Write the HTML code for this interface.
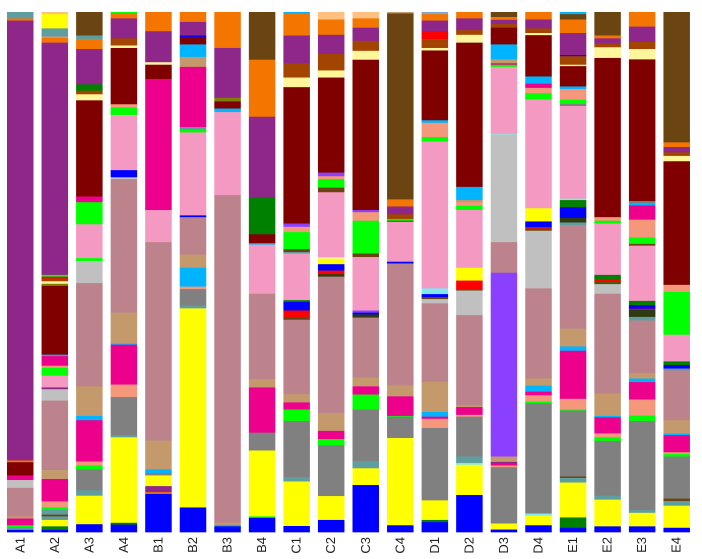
<!DOCTYPE html>
<html><head><meta charset="utf-8"><style>
html,body{margin:0;padding:0;background:#fff;width:702px;height:559px;overflow:hidden}
</style></head><body>
<svg id="s" width="702" height="559" xmlns="http://www.w3.org/2000/svg" font-family="Liberation Sans, sans-serif"></svg>
<script>
var C={te:'#5f9ea0',pu:'#8f268a',or:'#f47500',ye:'#ffff00',dr:'#800000',pk:'#ec008c',lp:'#f49ac2',ma:'#bc838c',ta:'#c49a6c',gr:'#808080',bl:'#0000ff',gn:'#00ff00',dg:'#008000',si:'#c0c0c0',sa:'#f4977a',br:'#6b4511',ru:'#a34400',ly:'#fff59b',sk:'#00b4ff',vi:'#8b40ff',pe:'#ffc080',re:'#ff0000',cy:'#80e8f0',ol:'#808000',db:'#2e3a10',sb:'#7fa8d8'};
var D={
A1:'te52 or58 pu1293 or1298 dr1335 pk1348 si1370 ma1450 ta1456 pk1475 gn1480 te1488 bl1494',
A2:'pe40 ye80 te103 sa106 or120 pu772 gn777 re782 ru790 ly797 ol803 dr996 sk1000 pk1027 sa1033 gn1055 lp1088 pu1093 si1125 ma1320 ta1345 pk1408 sa1425 gn1432 te1445 br1450 te1460 ye1478 dg1488 bl1494',
A3:'br100 te110 or138 pu237 dg255 ru265 ly282 dr552 pk568 gn630 lp725 gn733 si795 ma1085 ta1168 sk1180 pk1296 sa1307 gn1318 gr1377 te1392 ye1472 bl1494',
A4:'gn38 or52 pu108 ru128 ly135 dr293 sa302 gn323 lp478 bl498 si503 ma878 ta965 sk968 pk1080 sa1115 gr1222 te1228 ye1468 dg1473 bl1494',
B1:'or88 pu175 ly182 dr222 pk590 lp680 ma1237 ta1318 sk1328 gr1335 ye1365 pu1382 or1387 bl1494',
B2:'or62 pu100 bl104 dr125 sk160 ta188 pk357 te365 gn372 lp605 bl610 ma715 ta752 sk805 sa812 gr858 te866 ye1425 bl1494',
B3:'or135 pu275 ol285 dr305 sk315 lp548 ma1468 ta1474 sk1478 bl1494',
B4:'br168 or328 pu556 dg658 dr683 sk687 lp825 ma1065 ta1088 pk1215 gr1265 ye1450 gn1454 bl1494',
C1:'sk38 or100 pu178 ru218 ly245 dr628 vi637 sa652 gn700 br708 te712 lp843 dg848 bl872 re890 br898 ma1107 ta1130 pk1150 gn1182 gr1340 te1352 ye1477 bl1494',
C2:'pe55 or98 pu152 ru198 ly218 dr485 vi495 sa503 gn527 br540 lp723 ly727 ye742 bl760 re770 db777 ma1160 ta1210 pk1233 gn1250 gr1393 ye1460 bl1494',
C3:'pe52 or78 pu115 ru143 ly168 dr590 vi596 sa620 gn712 br722 lp872 vi878 bl883 db892 ma1060 ta1085 pk1108 gn1150 gr1295 te1315 ye1362 bl1494',
C4:'ta38 br560 or580 pu602 ru615 gn620 br623 lp735 bl740 ma1082 ta1113 pk1168 gn1170 gr1230 ye1475 bl1494',
D1:'sb40 or58 pu88 re110 ru135 ly142 dr338 sk345 sa385 gn398 lp810 cy826 bl834 br840 si852 ma1072 ta1157 sk1170 pk1176 sa1202 gr1405 ye1460 dg1466 bl1494',
D2:'or52 pu85 ru98 ly120 dr525 sk562 ta568 sa578 gn590 lp752 ye788 re812 br816 si885 ma1138 ta1143 pk1165 sa1170 gr1282 te1300 cy1305 ye1390 bl1494',
D3:'br48 or56 pu68 ru78 dr125 sk167 ta178 pk182 gn188 lp376 cy378 si680 ma766 vi1282 ta1297 pu1302 pk1307 sa1312 gr1470 ye1487 bl1494',
D4:'or55 pu80 ru93 ly99 dr215 sk235 pk247 sa262 gn280 lp585 ye622 bl638 re642 br648 si810 ma1063 ta1083 sk1100 pk1110 sa1128 gn1133 gr1442 cy1448 ye1475 bl1494',
E1:'sk40 br55 or93 pu155 bl158 ru182 ly186 dr243 sk250 sa280 gn292 gr298 lp558 cy562 dg582 bl612 db625 te632 ma923 ta973 sk985 pk1120 sa1150 gn1153 gr1338 br1342 te1355 ye1453 dg1482 bl1494',
E2:'br100 or108 pu122 ru133 ly163 dr610 sa620 gn628 lp772 dg785 re793 dg798 si825 ma1105 ta1168 sk1172 pk1217 sa1228 gn1238 gr1392 te1403 ye1478 bl1494',
E3:'or75 pu118 ru138 ly167 dr565 gr570 sk577 pk617 sa667 gn685 br690 lp845 dg857 bl867 re870 db890 te900 ma1048 ta1063 sk1073 pk1122 sa1167 gn1182 gr1432 te1440 ye1478 bl1494',
E4:'br400 or413 pu428 ru438 ly453 dr800 sa820 gn940 lp1015 dg1025 bl1035 te1040 ma1180 ta1218 sk1222 pk1270 sa1275 gn1282 gr1400 br1407 te1420 ye1482 bl1494'
};
var s='',i=0;
function Y(z){return 12+(z-34)*0.3562;}
for(var k in D){
 var x=7+i*34.55,w=26.5,prev=34;
 D[k].split(' ').forEach(function(t){
  var c=C[t.slice(0,2)],e=+t.slice(2);
  s+='<rect x="'+x.toFixed(2)+'" y="'+Y(prev).toFixed(2)+'" width="'+w+'" height="'+(Y(e)-Y(prev)+0.3).toFixed(2)+'" fill="'+c+'"/>';
  prev=e;
 });
 var cx=x+w/2+4;
 s+='<text x="0" y="0" font-size="13" fill="#222" text-anchor="end" transform="translate('+cx.toFixed(1)+',537) rotate(-90)">'+k+'</text>';
 i++;
}
document.getElementById('s').innerHTML=s;
</script>
</body></html>
